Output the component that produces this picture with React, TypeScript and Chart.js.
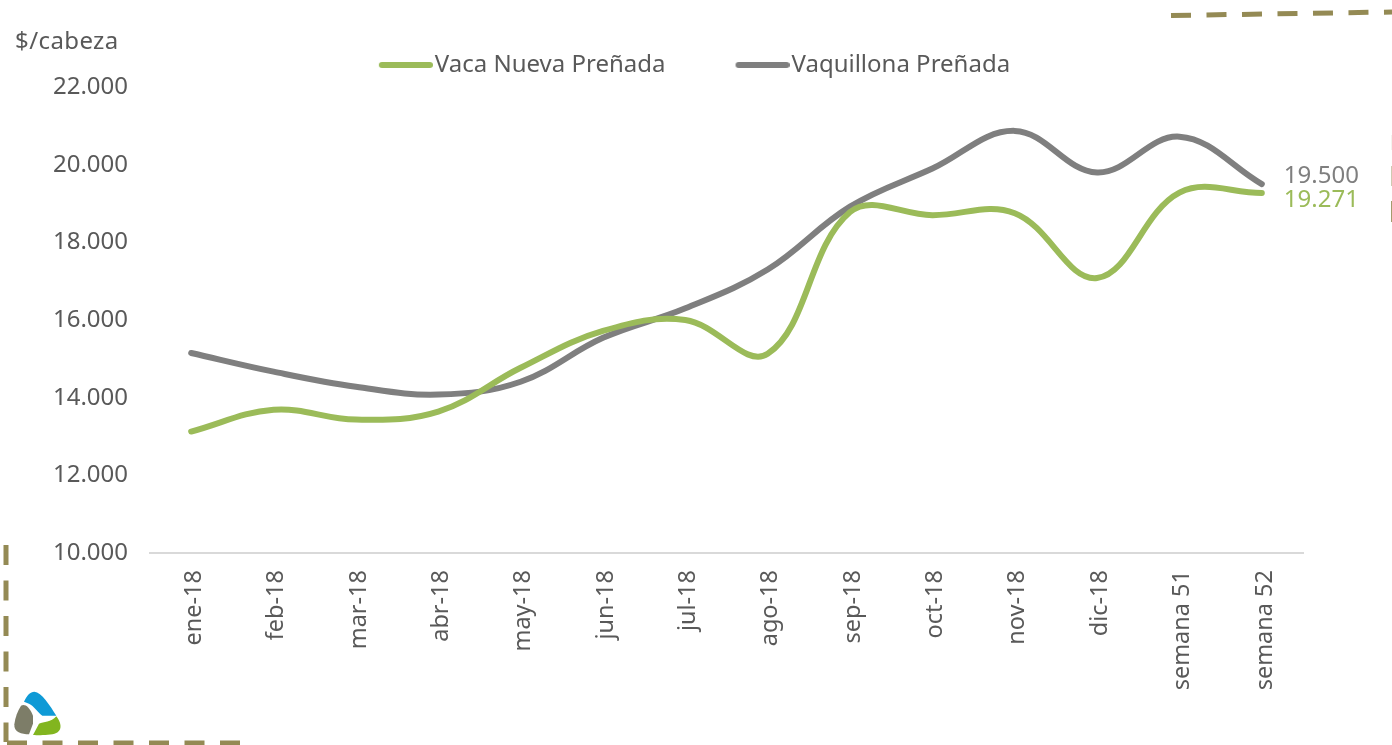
import { useEffect, useRef } from "react";
import { Chart, registerables } from "chart.js";

Chart.register(...registerables);

const categories = ["ene-18", "feb-18", "mar-18", "abr-18", "may-18", "jun-18", "jul-18", "ago-18", "sep-18", "oct-18", "nov-18", "dic-18", "semana 51", "semana 52"];
const vacaNueva = [13128, 13690, 13436, 13640, 14770, 15720, 16000, 15130, 18780, 18700, 18750, 17080, 19280, 19271];
const vaquillona = [15150, 14670, 14280, 14080, 14410, 15540, 16300, 17300, 18920, 19900, 20870, 19800, 20720, 19500];
const seriesNames = ["Vaca Nueva Preñada", "Vaquillona Preñada"];
const unitLabel = "$/cabeza";

const GREEN = "#9bbb59";
const GRAY = "#7f7f7f";
const TEXT = "#595959";
const OLIVE = "#948a54";
const FONT = '"Noto Sans", sans-serif';

const fmt = (v: number) => {
  const s = String(Math.round(v));
  return s.slice(0, -3) + "." + s.slice(-3);
};

function legendSwatch(color: string) {
  const c = document.createElement("canvas");
  c.width = 64;
  c.height = 10;
  const g = c.getContext("2d")!;
  g.strokeStyle = color;
  g.lineWidth = 6;
  g.lineCap = "round";
  g.beginPath();
  g.moveTo(13, 5);
  g.lineTo(61, 5);
  g.stroke();
  return c;
}

function dashed(ctx: CanvasRenderingContext2D, x0: number, y0: number, x1: number, y1: number) {
  ctx.save();
  ctx.strokeStyle = OLIVE;
  ctx.lineWidth = 5;
  ctx.setLineDash([20, 15.5]);
  ctx.beginPath();
  ctx.moveTo(x0, y0);
  ctx.lineTo(x1, y1);
  ctx.stroke();
  ctx.restore();
}

function edgeDash(ctx: CanvasRenderingContext2D, y0: number, y1: number, alpha: number) {
  ctx.save();
  ctx.globalAlpha = alpha;
  ctx.fillStyle = OLIVE;
  ctx.fillRect(1391, y0, 1, y1 - y0);
  ctx.restore();
}

const decorPlugin = {
  id: "decor",
  beforeLayout(chart: any) {
    if (chart.legend) chart.legend.afterFit = function () { this.height = 102; };
  },
  afterLayout(chart: any) {
    if (chart.legend) {
      chart.legend.left += 43;
      chart.legend.right += 43;
    }
  },
  afterDraw(chart: any) {
    const ctx = chart.ctx as CanvasRenderingContext2D;
    // page frame dashes
    dashed(ctx, 6, 545, 6, 742);
    dashed(ctx, 7, 743, 241, 743);
    dashed(ctx, 1171, 15.5, 1392, 12);
    edgeDash(ctx, 135, 150, 0.1);
    edgeDash(ctx, 166, 186, 0.45);
    edgeDash(ctx, 201, 222, 0.85);
    // logo
    ctx.save();
    ctx.translate(5, 685);
    ctx.scale(1 / 3, 1 / 3);
    ctx.fillStyle = "#0f9ad6";
    ctx.fill(new Path2D("M57 50 C66 30 76 20 88 20 C110 22 134 60 154 92 L112 92 C100 84 86 62 72 56 Z"));
    ctx.fillStyle = "#7d7d68";
    ctx.fill(new Path2D("M48 62 C58 56 72 62 84 92 L84 116 L72 148 C50 148 26 142 28 118 C30 98 38 78 48 62 Z"));
    ctx.fillStyle = "#82b51f";
    ctx.fill(new Path2D("M154 94 C168 112 172 132 158 142 C144 152 104 151 84 150 L102 116 C116 110 138 112 154 94 Z"));
    ctx.restore();
    // unit label
    ctx.save();
    ctx.font = `24px ${FONT}`;
    ctx.fillStyle = TEXT;
    ctx.textBaseline = "middle";
    ctx.textAlign = "left";
    (ctx as any).letterSpacing = "0.4px";
    ctx.fillText(unitLabel, 15, 42);
    (ctx as any).letterSpacing = "0px";
    // end labels
    const xs = chart.scales.x;
    const ys = chart.scales.y;
    const last = categories.length - 1;
    const xp = xs.getPixelForValue(last) + 22;
    ctx.fillStyle = GRAY;
    ctx.fillText(fmt(vaquillona[last]), xp, ys.getPixelForValue(vaquillona[last]) - 8);
    ctx.fillStyle = GREEN;
    ctx.fillText(fmt(vacaNueva[last]), xp, ys.getPixelForValue(vacaNueva[last]) + 7);
    ctx.restore();
  },
};

export default function App() {
  const ref = useRef<HTMLCanvasElement>(null);
  useEffect(() => {
    const chart = new Chart(ref.current!, {
      type: "line",
      plugins: [decorPlugin],
      data: {
        labels: categories,
        datasets: [
          { label: seriesNames[0], data: vacaNueva, borderColor: GREEN, backgroundColor: GREEN, borderWidth: 6, tension: 0.38, pointRadius: 0, borderCapStyle: "round", pointStyle: legendSwatch(GREEN) as any, clip: false as any },
          { label: seriesNames[1], data: vaquillona, borderColor: GRAY, backgroundColor: GRAY, borderWidth: 6, tension: 0.38, pointRadius: 0, borderCapStyle: "round", pointStyle: legendSwatch(GRAY) as any, clip: false as any },
        ],
      },
      options: {
        animation: false,
        responsive: false,
        layout: { padding: { top: -17, right: 89, left: 0, bottom: 0 } },
        plugins: {
          tooltip: { enabled: false },
          legend: {
            position: "top",
            labels: {
              usePointStyle: true,
              pointStyleWidth: 44,
              padding: 70,
              color: TEXT,
              font: { family: FONT, size: 24 },
            },
          },
        },
        scales: {
          x: {
            offset: true,
            grid: { display: false },
            border: { display: true, color: "#d9d9d9", width: 2 },
            afterFit: (s: any) => { s.height = 192; },
            ticks: { minRotation: 90, maxRotation: 90, autoSkip: false, padding: 9, labelOffset: 3, color: TEXT, font: { family: FONT, size: 23.5 } },
          },
          y: {
            min: 10000,
            max: 22000,
            grid: { display: false },
            border: { display: false },
            afterFit: (s: any) => { s.width = 150; },
            ticks: { stepSize: 2000, padding: 14, color: TEXT, font: { family: FONT, size: 24 }, callback: (v: any) => fmt(Number(v)) },
          },
        },
      },
    });
    return () => chart.destroy();
  }, []);
  return (
    <div style={{ position: "fixed", left: 0, top: 0, width: 1392, height: 745, background: "#fff" }}>
      <canvas ref={ref} width={1392} height={745} style={{ display: "block" }} />
    </div>
  );
}
